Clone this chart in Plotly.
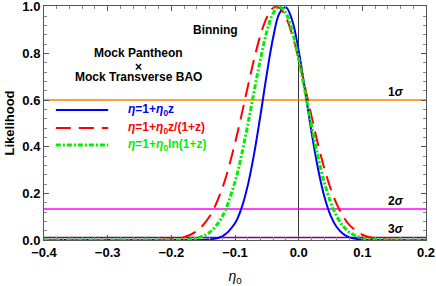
import plotly.graph_objects as go

# ---- data ----
eta0_grid = [-0.40, -0.30, -0.24, -0.22, -0.20, -0.18, -0.16, -0.14, -0.12, -0.10, -0.09,
             -0.08, -0.07, -0.06, -0.05, -0.04, -0.03, -0.02, -0.01, 0.00, 0.01,
             0.02, 0.03, 0.04, 0.05, 0.06, 0.07, 0.08, 0.10, 0.12, 0.14, 0.16, 0.20]

like_linear = [0.0, 0.0, 0.0, 0.0, 0.0, 0.0, 0.0003, 0.0024, 0.0158, 0.072, 0.135,
               0.233, 0.369, 0.535, 0.712, 0.869, 0.973, 0.998, 0.940, 0.811, 0.642,
               0.466, 0.311, 0.190, 0.106, 0.0545, 0.0257, 0.0111, 0.0016, 0.0002, 0.0, 0.0, 0.0]

like_ratio = [0.0, 0.0, 0.0002, 0.0008, 0.0035, 0.0125, 0.0386, 0.1007, 0.222, 0.415, 0.533,
              0.656, 0.775, 0.878, 0.954, 0.995, 0.995, 0.954, 0.878, 0.775, 0.656,
              0.533, 0.415, 0.310, 0.222, 0.153, 0.1007, 0.0637, 0.0225, 0.0067, 0.0017, 0.0004, 0.0]

like_log = [0.0, 0.0, 0.0, 0.0, 0.0003, 0.0017, 0.0083, 0.0324, 0.1007, 0.249, 0.361,
            0.493, 0.636, 0.775, 0.893, 0.972, 1.0, 0.972, 0.893, 0.775, 0.636,
            0.493, 0.361, 0.249, 0.163, 0.1007, 0.0587, 0.0324, 0.0083, 0.0017, 0.0003, 0.0, 0.0]

series_names = ["<b><i>η</i>=1+<i>η</i><sub>0</sub>z</b>",
                "<b><i>η</i>=1+<i>η</i><sub>0</sub>z/(1+z)</b>",
                "<b><i>η</i>=1+<i>η</i><sub>0</sub>ln(1+z)</b>"]
series_colors = ["#0000FF", "#FF0000", "#00EE00"]
series_dash = ["solid", "15px,8px", "5px,2px,2px,2px"]
series_width = [2, 2, 3]

sigma_levels = [0.6, 0.133, 0.011]
sigma_labels = ["1<i>σ</i>", "2<i>σ</i>", "3<i>σ</i>"]
sigma_colors = ["#FF8000", "#FF00FF", "#800080"]

x_ticks = [-0.4, -0.3, -0.2, -0.1, 0.0, 0.1, 0.2]
y_ticks = [0.0, 0.2, 0.4, 0.6, 0.8, 1.0]

FONT = "Liberation Sans, Arial, sans-serif"

fig = go.Figure()

# sigma lines
for lvl, col in zip(sigma_levels, sigma_colors):
    fig.add_trace(go.Scatter(x=[x_ticks[0], x_ticks[-1]], y=[lvl, lvl], mode="lines",
                             line=dict(color=col, width=1.6), showlegend=False, hoverinfo="skip"))

for ys, nm, col, ds, w in zip([like_linear, like_ratio, like_log], series_names,
                              series_colors, series_dash, series_width):
    fig.add_trace(go.Scatter(x=eta0_grid, y=ys, mode="lines", line_shape="spline",
                             line=dict(color=col, width=w, dash=ds), name=nm, showlegend=False))

ann = []
shapes = []
# manual legend (layout, paper coordinates)
leg_y = [0.556, 0.479, 0.406]
for ly, nm, col, ds, w in zip(leg_y, series_names, series_colors, series_dash, series_width):
    shapes.append(dict(type="line", xref="paper", yref="paper", x0=0.031, x1=0.168, y0=ly, y1=ly,
                       line=dict(color=col, width=w, dash=ds)))
    ann.append(dict(xref="paper", yref="paper", x=0.214, y=ly, text=nm, showarrow=False,
                    xanchor="left", yanchor="middle", font=dict(size=12, color=col, family=FONT)))

for lvl, lab in zip(sigma_levels, sigma_labels):
    ann.append(dict(x=0.153, y=lvl, text="<b>" + lab + "</b>", showarrow=False,
                    yanchor="bottom", yshift=-1, font=dict(size=12, color="black", family=FONT)))
ann.append(dict(x=-0.131, y=0.90, text="<b>Binning</b>", showarrow=False,
                font=dict(size=12, color="black", family=FONT)))
ann.append(dict(x=-0.251, y=0.80, text="<b>Mock Pantheon</b>", showarrow=False,
                font=dict(size=12, color="black", family=FONT)))
ann.append(dict(x=-0.251, y=0.743, text="<b>×</b>", showarrow=False,
                font=dict(size=12, color="black", family=FONT)))
ann.append(dict(x=-0.251, y=0.697, text="<b>Mock Transverse BAO</b>", showarrow=False,
                font=dict(size=12, color="black", family=FONT)))

fig.update_layout(
    width=436, height=286,
    margin=dict(l=44, r=10, t=6, b=46),
    paper_bgcolor="white", plot_bgcolor="white",
    font=dict(family=FONT, size=12, color="black"),
    annotations=ann, shapes=shapes, showlegend=False,
    xaxis=dict(range=[-0.4, 0.2], tickvals=x_ticks, ticktext=[f"{v:.1f}".replace("-", "−") for v in x_ticks],
               automargin=False, ticklabeloverflow="allow",
               showgrid=False, zeroline=True, zerolinecolor="#333333", zerolinewidth=1,
               showline=True, linecolor="#555555", linewidth=1, mirror="ticks",
               ticks="inside", ticklen=5, tickcolor="#555555",
               minor=dict(dtick=0.02, ticks="inside", ticklen=3, tickcolor="#888888"),
               tickfont=dict(size=13, family=FONT, weight="bold"),
               title=dict(text="<i>η</i><sub>0</sub>", font=dict(size=14, family=FONT), standoff=12)),
    yaxis=dict(range=[0, 1.003], tickvals=y_ticks, ticktext=[f"{v:.1f}" for v in y_ticks],
               automargin=False, ticklabeloverflow="allow",
               showgrid=False, zeroline=False,
               showline=True, linecolor="#555555", linewidth=1, mirror="ticks",
               ticks="inside", ticklen=5, tickcolor="#555555",
               minor=dict(dtick=0.04, ticks="inside", ticklen=3, tickcolor="#888888"),
               tickfont=dict(size=13, family=FONT, weight="bold"),
               title=dict(text="<b>Likelihood</b>", font=dict(size=13, family=FONT), standoff=4)),
)

fig.write_html("out.html", config={"displayModeBar": False},
               post_script="document.body.style.margin='0px';")
